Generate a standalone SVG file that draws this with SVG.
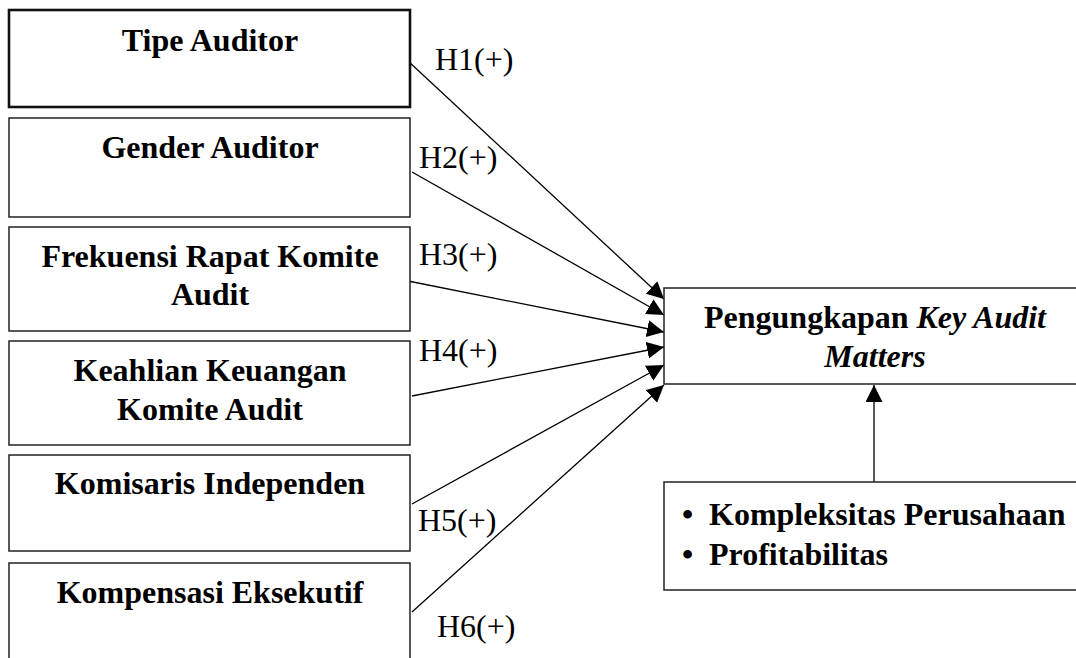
<svg xmlns="http://www.w3.org/2000/svg" width="1076" height="658" viewBox="0 0 1076 658">
<style>
.box{fill:#fff;stroke:#222;stroke-width:1.5}
.thick{stroke:#111;stroke-width:2.6}
.t{font-family:"Liberation Serif","Times New Roman",serif;font-size:32px;font-weight:bold;text-anchor:middle;fill:#000}
.bl{font-family:"Liberation Serif","Times New Roman",serif;font-size:32px;font-weight:bold;fill:#000}
.lab{font-family:"Liberation Serif","Times New Roman",serif;font-size:32px;fill:#000}
.c{stroke:#000;stroke-width:1.3;fill:none;marker-end:url(#ah)}
</style>
<defs>
<marker id="ah" markerUnits="userSpaceOnUse" markerWidth="19" markerHeight="19" refX="17" refY="8.5" orient="auto" viewBox="0 0 19 19">
<path d="M0,0 L17,8.5 L0,17 Z" fill="#000"/>
</marker>
</defs>
<g id="connectors">
<line class="c" x1="408" y1="61" x2="664" y2="299"/>
<line class="c" x1="412" y1="172" x2="664" y2="315"/>
<line class="c" x1="408" y1="281" x2="664" y2="332"/>
<line class="c" x1="412" y1="396" x2="664" y2="347"/>
<line class="c" x1="412" y1="504" x2="664" y2="365"/>
<line class="c" x1="412" y1="612" x2="664" y2="385"/>
<line class="c" x1="874" y1="482" x2="874" y2="385"/>
</g>
<g id="labels">
<text class="lab" x="435" y="70">H1(+)</text>
<text class="lab" x="419" y="168">H2(+)</text>
<text class="lab" x="419" y="265">H3(+)</text>
<text class="lab" x="419" y="361">H4(+)</text>
<text class="lab" x="418" y="531">H5(+)</text>
<text class="lab" x="437" y="637">H6(+)</text>
</g>
<g id="tipe-auditor">
<rect class="box thick" x="9" y="10" width="401" height="97"/>
<text class="t" x="210" y="51">Tipe Auditor</text>
</g>
<g id="gender-auditor">
<rect class="box" x="9" y="118" width="401" height="99"/>
<text class="t" x="210" y="158">Gender Auditor</text>
</g>
<g id="frekuensi-rapat">
<rect class="box" x="9" y="227" width="401" height="104"/>
<text class="t" x="210" y="267">Frekuensi Rapat Komite</text>
<text class="t" x="210" y="305">Audit</text>
</g>
<g id="keahlian-keuangan">
<rect class="box" x="9" y="341" width="401" height="104"/>
<text class="t" x="210" y="381">Keahlian Keuangan</text>
<text class="t" x="210" y="420">Komite Audit</text>
</g>
<g id="komisaris-independen">
<rect class="box" x="9" y="455" width="401" height="96"/>
<text class="t" x="210" y="494">Komisaris Independen</text>
</g>
<g id="kompensasi-eksekutif">
<rect class="box" x="9" y="563" width="401" height="110"/>
<text class="t" x="210" y="603">Kompensasi Eksekutif</text>
</g>
<g id="pengungkapan-kam">
<rect class="box" x="664" y="288" width="430" height="96"/>
<text class="t" x="875" y="328">Pengungkapan <tspan font-style="italic">Key Audit</tspan></text>
<text class="t" x="875" y="367" font-style="italic">Matters</text>
</g>
<g id="kontrol">
<rect class="box" x="664" y="482" width="430" height="108"/>
<text class="bl" x="682" y="525">•</text>
<text class="bl" x="709" y="525">Kompleksitas Perusahaan</text>
<text class="bl" x="682" y="565">•</text>
<text class="bl" x="709" y="565">Profitabilitas</text>
</g>
</svg>
